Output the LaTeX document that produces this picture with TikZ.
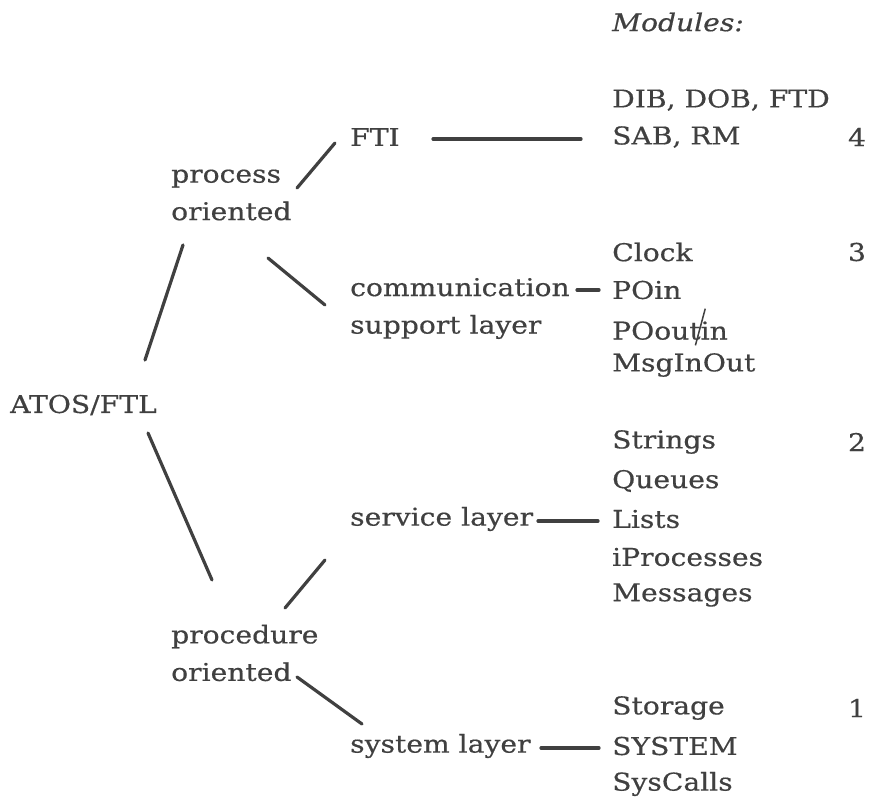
\documentclass[tikz,border=0pt]{standalone}
\usepackage{fontspec}
\setmainfont{DejaVu Serif}[FakeStretch=1.15,FakeBold=0.5]
\definecolor{ink}{HTML}{404040}
\newcommand{\txtsize}{\fontsize{24.5}{37.5}\selectfont}
\begin{document}
\begin{tikzpicture}[x=1pt,y=-1pt,
  lbl/.style={anchor=west,inner sep=0pt,text=ink,font=\txtsize},
  two/.style={lbl,align=left},
  num/.style={inner sep=0pt,text=ink,font=\txtsize},
  conn/.style={draw=ink,line width=3.2pt,line cap=round}]
\useasboundingbox (0,0) rectangle (869,798);

% header
\node[lbl,font=\txtsize\itshape] (hdr) at (612,22) {Modules:};

% left: root and the two groups
\node[lbl] (atos) at (10,405) {ATOS/FTL};
\node[two] (proc) at (171,195) {process\\oriented};
\node[two] (pced) at (171,653) {procedure\\oriented};

% middle column
\node[lbl] (fti) at (350,137) {FTI};
\node[two] (comm) at (350,308.5) {communication\\support layer};
\node[lbl] (serv) at (350,519) {service layer};
\node[lbl] (sys) at (350,746) {system layer};

% module lists
\node[lbl] (dib) at (612,100) {DIB, DOB, FTD};
\node[lbl] (sab) at (612,137) {SAB, RM};
\node[lbl] (clock) at (612,252) {Clock};
\node[lbl] (poin) at (612,290) {POin};
\node[lbl] (poout) at (612,327) {POout\rlap{\kern-6pt\raisebox{-6pt}{\rotatebox{75}{\rule{38pt}{1.5pt}}}}in};
\node[lbl] (msg) at (612,365) {MsgInOut};
\node[lbl] (str) at (612,442) {Strings};
\node[lbl] (que) at (612,481) {Queues};
\node[lbl] (lists) at (612,519) {Lists};
\node[lbl] (iproc) at (612,557) {iProcesses};
\node[lbl] (msgs) at (612,595) {Messages};
\node[lbl] (stor) at (612,708) {Storage};
\node[lbl] (sysm) at (612,746) {SYSTEM};
\node[lbl] (sysc) at (612,784) {SysCalls};

% level numbers
\node[num] (l4) at (857,137) {4};
\node[num] (l3) at (857,252) {3};
\node[num] (l2) at (857,442) {2};
\node[num] (l1) at (857,708) {1};

% tree connectors (end points offset from the west anchors)
\draw[conn] ([shift={(12,50)}]proc.west) -- ([shift={(135,-45)}]atos.west);
\draw[conn] ([shift={(126,-7)}]proc.west) -- ([shift={(-15,6)}]fti.west);
\draw[conn] ([shift={(97,63)}]proc.west) -- ([shift={(-25,-3.5)}]comm.west);
\draw[conn] ([shift={(138,28)}]atos.west) -- ([shift={(41,-73)}]pced.west);
\draw[conn] ([shift={(114,-45)}]pced.west) -- ([shift={(-25,41)}]serv.west);
\draw[conn] ([shift={(126,24)}]pced.west) -- ([shift={(12,-22)}]sys.west);

% links to the module lists
\draw[conn] ([shift={(83,2)}]fti.west) -- ([shift={(-31,2)}]sab.west);
\draw[conn] ([shift={(227,-18.5)}]comm.west) -- ([shift={(-13,0)}]poin.west);
\draw[conn] ([shift={(188,2)}]serv.west) -- ([shift={(-14,2)}]lists.west);
\draw[conn] ([shift={(191,2)}]sys.west) -- ([shift={(-13,2)}]sysm.west);
\end{tikzpicture}
\end{document}
